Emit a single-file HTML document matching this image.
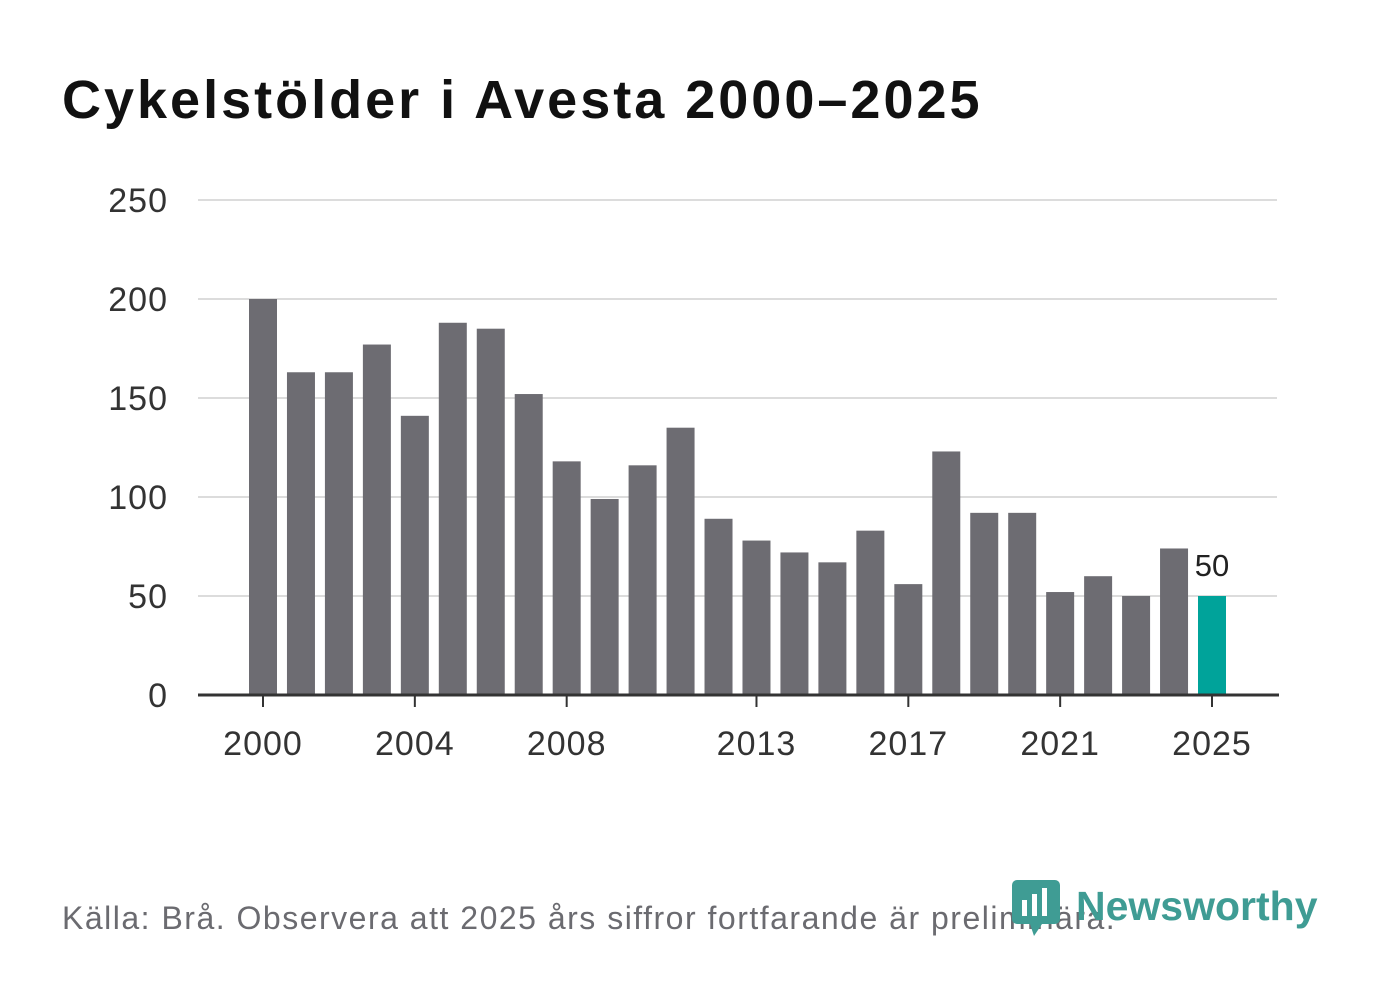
<!DOCTYPE html>
<html><head><meta charset="utf-8"><style>
html,body{margin:0;padding:0;background:#fff;}
body{width:1382px;height:999px;position:relative;overflow:hidden;font-family:"Liberation Sans",sans-serif;}
#title{position:absolute;left:62px;top:69px;font-size:54px;font-weight:bold;color:#111;margin:0;letter-spacing:3px;}
#foot{position:absolute;left:62px;top:900px;font-size:32px;color:#6b6b70;letter-spacing:1.5px;}
#logo{position:absolute;left:1012px;top:876px;display:flex;align-items:center;}
#logo span{font-size:41px;font-weight:bold;color:#3f9c94;margin-left:14px;}
</style></head><body>
<h1 id="title">Cykelstölder i Avesta 2000–2025</h1>
<svg id="chart" width="1382" height="999" style="position:absolute;left:0;top:0"></svg>
<div id="foot">Källa: Brå. Observera att 2025 års siffror fortfarande är preliminära.</div>
<div id="logo">
<svg width="50" height="60"><rect x="0" y="4" width="48" height="44" rx="5" fill="#3f9c94"/><polygon points="18,48 30,48 22,60" fill="#3f9c94"/><rect x="10" y="24" width="5" height="16" fill="#fff"/><rect x="20" y="18" width="5" height="22" fill="#fff"/><rect x="30" y="12" width="5" height="28" fill="#fff"/></svg>
<span>Newsworthy</span></div>
<script>
const years=[2000,2001,2002,2003,2004,2005,2006,2007,2008,2009,2010,2011,2012,2013,2014,2015,2016,2017,2018,2019,2020,2021,2022,2023,2024,2025];
const values=[200,163,163,177,141,188,185,152,118,99,116,135,89,78,72,67,83,56,123,92,92,52,60,50,74,50];
const yTicks=[0,50,100,150,200,250];
const xTicks=[2000,2004,2008,2013,2017,2021,2025];
const NS="http://www.w3.org/2000/svg";
const svg=document.getElementById('chart');
const x=yr=>263+(yr-2000)*37.96;
const y=v=>695-v*1.98;
function mk(t,a){const e=document.createElementNS(NS,t);for(const k in a)e.setAttribute(k,a[k]);svg.appendChild(e);return e;}
yTicks.forEach(t=>{
 if(t>0){const g=mk('line',{x1:198,x2:1277,y1:y(t),y2:y(t),stroke:'#dcdcdc','stroke-width':2});
 
 }
 const l=mk('text',{x:168,y:y(t)+12,'text-anchor':'end','font-size':34,fill:'#333','font-family':'Liberation Sans, sans-serif','letter-spacing':1});
 l.textContent=t;
 
 
});
years.forEach((yr,i)=>{
 const last=i===years.length-1;
 const b=mk('rect',{x:x(yr)-14,y:y(values[i]),width:28,height:695-y(values[i]),fill:last?'#00a39a':'#6d6c72'});
 
 
 if(last){const t=mk('text',{x:x(yr),y:y(values[i])-20,'text-anchor':'middle','font-size':31,fill:'#222','font-family':'Liberation Sans, sans-serif'});
 t.textContent=values[i];
 
 }
});
const ax=mk('line',{x1:198,x2:1279,y1:695,y2:695,stroke:'#333','stroke-width':3});


xTicks.forEach(t=>{
 const tk=mk('line',{x1:x(t),x2:x(t),y1:695,y2:707,stroke:'#333','stroke-width':2});
 
 
 const l=mk('text',{x:x(t),y:755,'text-anchor':'middle','font-size':34,fill:'#333','font-family':'Liberation Sans, sans-serif','letter-spacing':1});
 l.textContent=t;
 
 
});
</script>
</body></html>
